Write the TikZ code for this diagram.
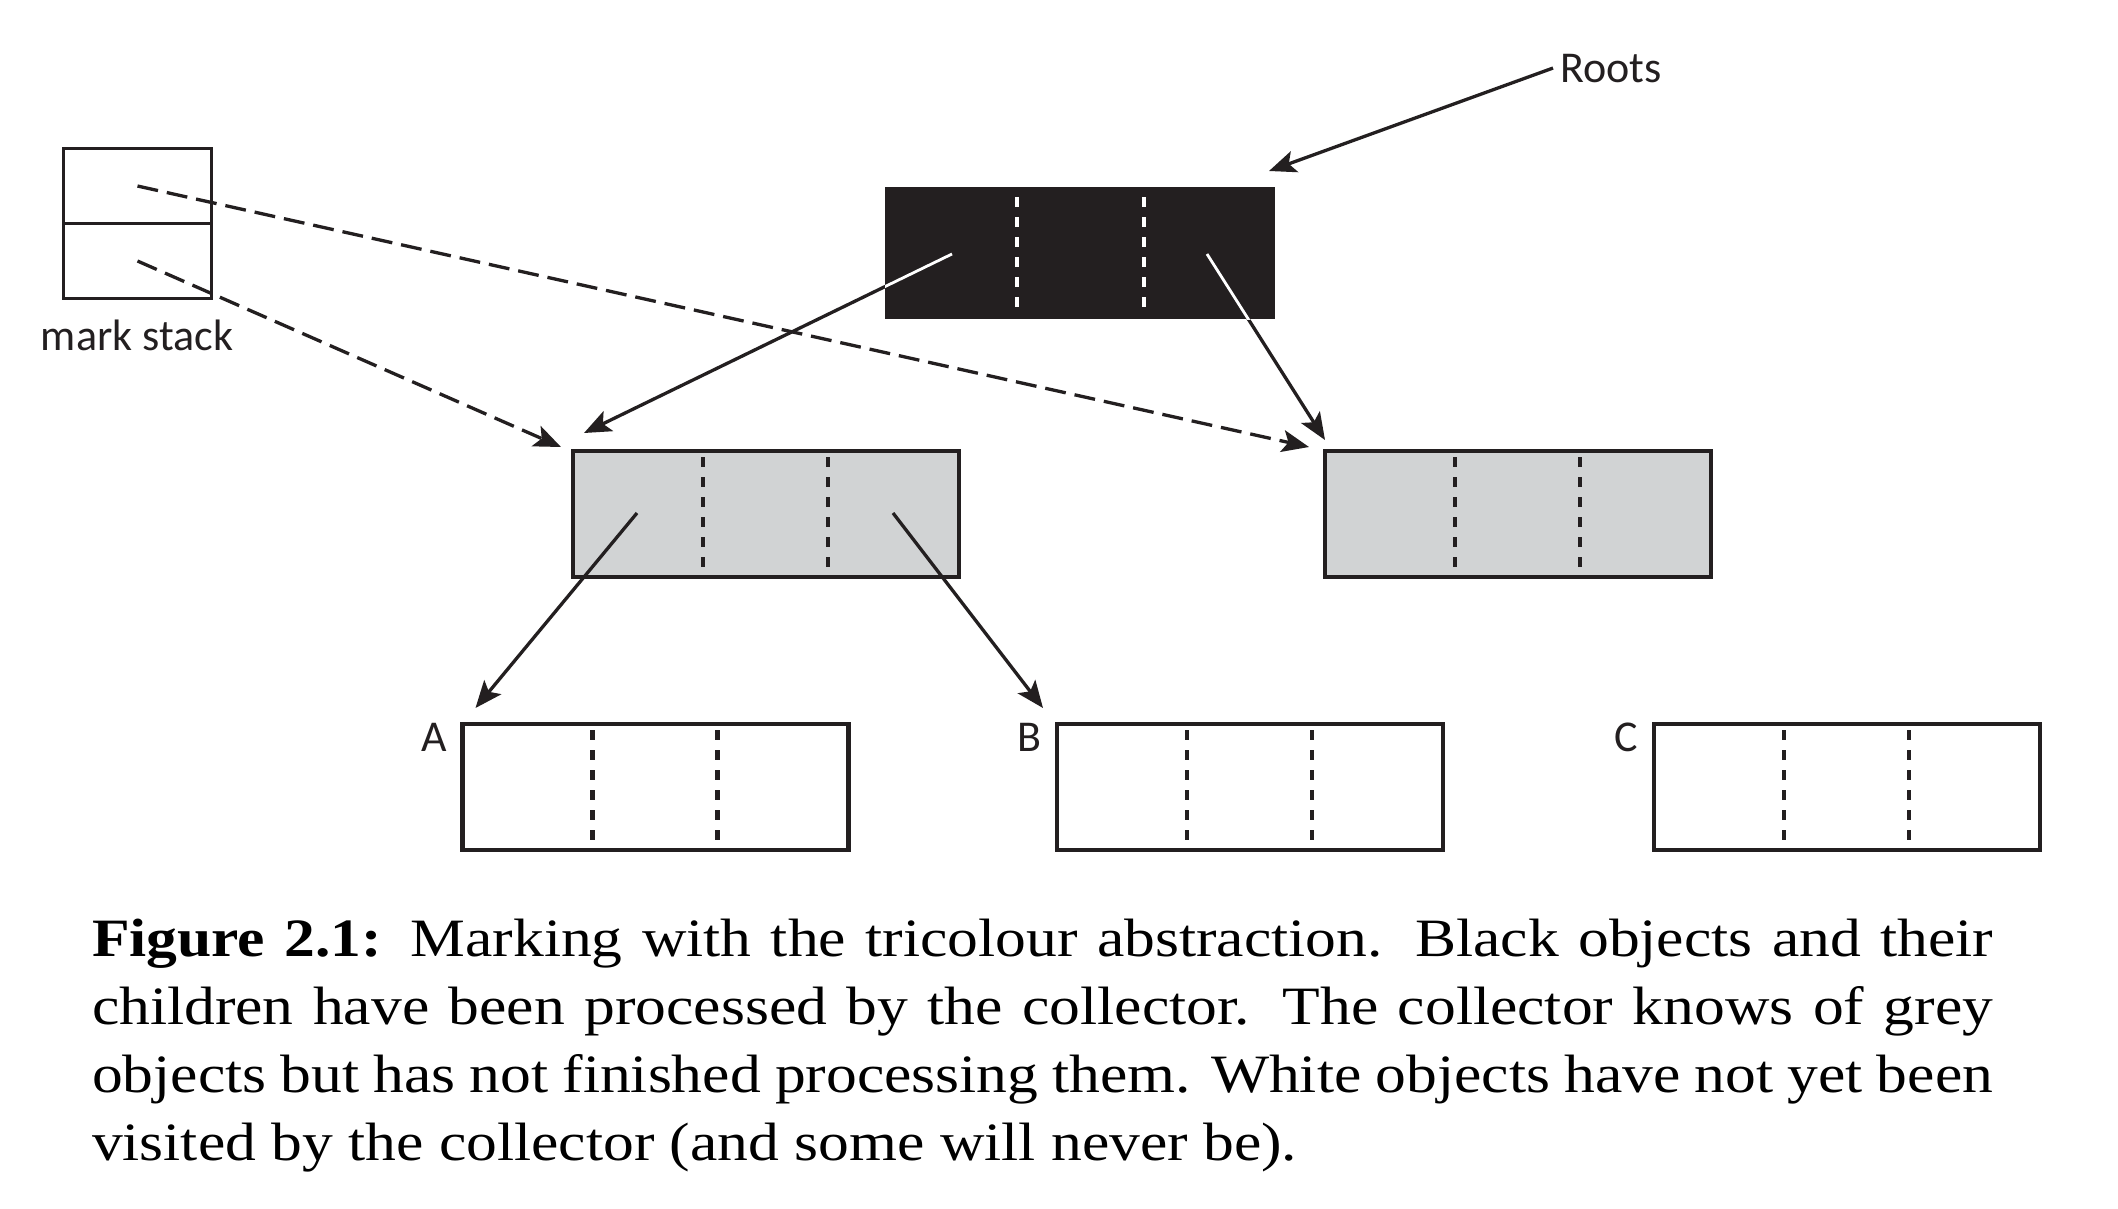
\documentclass[tikz,border=0pt]{standalone}
\usepackage{fontspec}
\newfontfamily\labelfont{Carlito}
\newfontfamily\capfont[FakeStretch=1.14]{Liberation Serif}
\usetikzlibrary{arrows.meta,calc}
\definecolor{objblack}{HTML}{231F20}
\definecolor{objgrey}{HTML}{D1D3D4}
\begin{document}
\begin{tikzpicture}[x=1pt,y=-1pt,
  obj/.style={draw=objblack, line width=4.6pt, minimum width=386pt, minimum height=126pt, inner sep=0pt, outer sep=0pt},
  greyobj/.style={obj, fill=objgrey},
  whiteobj/.style={obj, fill=white},
  blackobj/.style={draw=none, fill=objblack, minimum width=390pt, minimum height=132pt, inner sep=0pt, outer sep=0pt},
  cell/.style={draw=objblack, line width=3.6pt, minimum width=148pt, minimum height=75pt, inner sep=0pt, outer sep=0pt},
  divider/.style={draw=objblack, line width=4.4pt, dash pattern=on 10pt off 10pt},
  lab/.style={font={\labelfont\fontsize{44}{52}\selectfont}, text=objblack, inner sep=0pt, outer sep=0pt},
  tipstyle/.style={-{Stealth[length=27pt,width=22pt,inset=6pt]}},
  arr/.style={draw=objblack, line width=3.3pt, tipstyle},
  darr/.style={arr, dash pattern=on 21pt off 9pt}]
\useasboundingbox (0,0) rectangle (2118,1208);
\fill[white] (0,0) rectangle (2118,1208);

% objects
\node[blackobj] (blk) at (1080,253) {};
\node[greyobj] (g1) at (766,514) {};
\node[greyobj] (g2) at (1518,514) {};
\node[whiteobj] (wa) at (655.5,787) {};
\node[whiteobj] (wb) at (1250,787) {};
\node[whiteobj] (wc) at (1847,787) {};

% mark stack
\node[cell] (ms1) at (137.5,186) {};
\node[cell] (ms2) at (137.5,261) {};
\node[lab, anchor=base] (mslab) at (137,350) {mark stack};

% labels
\node[lab, anchor=base west] (roots) at (1560,82) {Roots};
\node[lab, anchor=base east] (la) at ($(wa.north west)+(-16,27)$) {A};
\node[lab, anchor=base east] (lb) at ($(wb.north west)+(-16,27)$) {B};
\node[lab, anchor=base east] (lc) at ($(wc.north west)+(-16,27)$) {C};

% dividers
\foreach \n in {g1,g2,wa,wb,wc} {
  \foreach \f in {0.337,0.661} {
    \draw[divider] ($(\n.north west)!\f!(\n.north east)+(0,6)$) -- ($(\n.south west)!\f!(\n.south east)+(0,-10)$);
  }
}
\foreach \f in {0.338,0.664} {
  \draw[divider, draw=white, line width=3.6pt] ($(blk.north west)!\f!(blk.north east)+(0,10)$) -- ($(blk.south west)!\f!(blk.south east)+(0,-12)$);
}

% connector ends
\coordinate (bL) at ($(blk.center)+(-128,1)$);
\coordinate (bR) at ($(blk.center)+(127,1)$);
\coordinate (gL) at ($(g1.center)+(-129,-1)$);
\coordinate (gR) at ($(g1.center)+(127,-1)$);
\coordinate (tg1a) at ($(g1.north west)+(11,-18)$);
\coordinate (tg1b) at ($(g1.north west)+(-12,-4)$);
\coordinate (tg2a) at ($(g2.north west)+(0,-11)$);
\coordinate (tg2b) at ($(g2.north west)+(-16,-4)$);
\coordinate (twa) at ($(wa.north west)+(13,-16)$);
\coordinate (twb) at ($(wb.north west)+(-14,-16)$);
\coordinate (troot) at ($(blk.north east)+(-6,-16)$);

% connectors
\draw[arr] ([xshift=-7pt]roots.west) -- (troot);
\draw[arr] (bL) -- (tg1a);
\draw[arr] (bR) -- (tg2a);
\begin{scope}
  \clip (blk.north west) rectangle (blk.south east);
  \draw[white, line width=2.8pt] (bL) -- (tg1a);
  \draw[white, line width=2.8pt] (bR) -- (tg2a);
\end{scope}
\draw[arr] (gL) -- (twa);
\draw[arr] (gR) -- (twb);
\draw[darr] (ms1.center) -- (tg2b);
\draw[darr] (ms2.center) -- (tg1b);

% caption
\node[anchor=north west, inner sep=0pt, outer sep=0pt, text width=1901pt, align=justify,
      font={\capfont\fontsize{54}{68}\selectfont}] (cap) at (92,919)
  {\hyphenpenalty=10000\exhyphenpenalty=10000\tolerance=9999
   \textbf{Figure 2.1:} Marking with the tricolour abstraction. Black objects and their\linebreak
   children have been processed by the collector. The collector knows of grey\linebreak
   objects but has not finished processing them. White objects have not yet been\linebreak
   visited by the collector (and some will never be).};
\end{tikzpicture}
\end{document}
